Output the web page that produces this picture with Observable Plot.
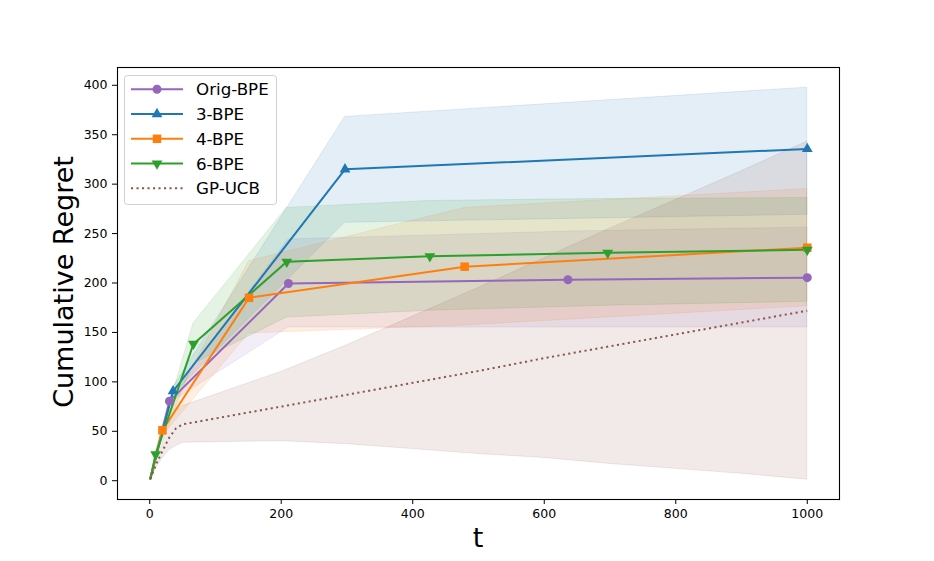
<!DOCTYPE html>
<html>
<head>
<meta charset="utf-8">
<script src="https://cdn.jsdelivr.net/npm/d3@7"></script>
<script src="https://cdn.jsdelivr.net/npm/@observablehq/plot@0.6"></script>
<style>
  html, body { margin: 0; padding: 0; background: white; }
  #chart { width: 934px; height: 561px; }
</style>
</head>
<body>
<div id="chart"></div>
<script>
// ---- Data ----
const seriesNames = ["Orig-BPE", "3-BPE", "4-BPE", "6-BPE", "GP-UCB"];
const seriesColors = ["#9467bd", "#1f77b4", "#ff7f0e", "#2ca02c", "#8c564b"];

const origT    = [1, 30, 211, 636, 1000];
const origMean = [2, 80.5, 199.5, 203.3, 205.4];
const origLo   = [2, 78, 155, 155, 155];
const origHi   = [2, 83, 244, 252, 256];

const threeT    = [1, 35.5, 297, 1000];
const threeMean = [2, 90.5, 315, 335.6];
const threeLo   = [2, 87, 261, 269];
const threeHi   = [2, 94, 368, 397.6];

const fourT    = [1, 19.3, 151, 479, 1000];
const fourMean = [2, 51, 185, 216.5, 235.7];
const fourLo   = [2, 45, 149, 157, 176.5];
const fourHi   = [2, 57, 222, 276, 295];

const sixT    = [1, 9, 66.5, 208.4, 426, 696.5, 1000];
const sixMean = [2, 26.6, 138.4, 221.5, 227, 230.6, 233.6];
const sixLo   = [2, 24, 118, 165, 172, 177, 181];
const sixHi   = [2, 29, 159, 276, 283, 285, 286];

const gpT    = [1, 10, 20, 30, 40, 50, 100, 200, 300, 400, 500, 600, 700, 800, 900, 1000];
const gpMean = [2, 17, 31, 44, 53, 57, 63, 75, 87, 99, 111, 124, 136, 148, 160, 172];
const gpStd  = [0, 4, 8, 13, 18, 18.5, 24, 35, 50, 67, 84, 101, 119, 136, 153, 171];

const xTicks = [0, 200, 400, 600, 800, 1000];
const yTicks = [0, 50, 100, 150, 200, 250, 300, 350, 400];

// ---- Build tables ----
function table(t, mean, lo, hi) {
  return t.map((v, i) => ({t: v, mean: mean[i], lo: lo[i], hi: hi[i]}));
}
const orig  = table(origT, origMean, origLo, origHi);
const three = table(threeT, threeMean, threeLo, threeHi);
const four  = table(fourT, fourMean, fourLo, fourHi);
const six   = table(sixT, sixMean, sixLo, sixHi);
const gp    = table(gpT, gpMean, gpMean.map((m, i) => m - gpStd[i]), gpMean.map((m, i) => m + gpStd[i]));

const bandSets = [orig, three, four, six, gp];
const fillAlpha = 0.12;

const marks = [];
bandSets.forEach((d, i) => {
  marks.push(Plot.areaY(d, {x: "t", y1: "lo", y2: "hi", fill: seriesColors[i], fillOpacity: fillAlpha,
    stroke: seriesColors[i], strokeOpacity: fillAlpha, strokeWidth: 1}));
});
[orig, three, four, six].forEach((d, i) => {
  marks.push(Plot.line(d, {x: "t", y: "mean", stroke: seriesColors[i], strokeWidth: 2}));
});
marks.push(Plot.line(gp, {x: "t", y: "mean", stroke: seriesColors[4], strokeWidth: 2,
  strokeDasharray: "2.1,3.4", strokeLinecap: "butt"}));

const markerSpec = [
  {symbol: "circle", r: 4.5, rotate: 0},
  {symbol: "triangle", r: 4.0, rotate: 0},
  {symbol: "square", r: 4.8, rotate: 0},
  {symbol: "triangle", r: 4.0, rotate: 180}
];
[orig, three, four, six].forEach((d, i) => {
  marks.push(Plot.dot(d.slice(1), {x: "t", y: "mean", symbol: markerSpec[i].symbol, r: markerSpec[i].r,
    rotate: markerSpec[i].rotate, fill: seriesColors[i], stroke: "none"}));
});
marks.push(Plot.frame({stroke: "black", strokeWidth: 1.1}));
marks.push(Plot.axisX({ticks: xTicks, tickSize: 5, tickPadding: 5, tickFormat: d => String(d), label: null}));
marks.push(Plot.axisY({ticks: yTicks, tickSize: 5, tickPadding: 5, tickFormat: d => String(d), label: null}));

const chart = Plot.plot({
  width: 934,
  height: 561,
  marginLeft: 117,
  marginRight: 95,
  marginTop: 67,
  marginBottom: 62,
  style: {fontFamily: "DejaVu Sans", fontSize: "12.5px", background: "white", color: "black", overflow: "visible"},
  x: {domain: [-49, 1049]},
  y: {domain: [-19, 418]},
  marks
});

document.getElementById("chart").appendChild(chart);

// ---- Axis titles and legend ----
const svg = d3.select(chart);
svg.append("text")
  .attr("x", 478).attr("y", 546.5)
  .attr("text-anchor", "middle")
  .attr("font-family", "DejaVu Sans").attr("font-size", 27)
  .attr("fill", "black")
  .text("t");
svg.append("text")
  .attr("transform", "translate(73,282) rotate(-90)")
  .attr("text-anchor", "middle")
  .attr("font-family", "DejaVu Sans").attr("font-size", 27)
  .attr("fill", "black")
  .text("Cumulative Regret");

const lg = svg.append("g");
lg.append("rect")
  .attr("x", 124.5).attr("y", 75.5).attr("width", 152).attr("height", 129).attr("rx", 3)
  .attr("fill", "white").attr("fill-opacity", 0.8)
  .attr("stroke", "#d0d0d0").attr("stroke-width", 1);
const legendSymbols = [d3.symbolCircle, d3.symbolTriangle, d3.symbolSquare, d3.symbolTriangle];
seriesNames.forEach((name, i) => {
  const yy = 89.3 + i * 24.75;
  const line = lg.append("line")
    .attr("x1", 131).attr("x2", 183).attr("y1", yy).attr("y2", yy)
    .attr("stroke", seriesColors[i]).attr("stroke-width", 2);
  if (i === 4) {
    line.attr("stroke-dasharray", "2.1,3.4");
  } else {
    const spec = markerSpec[i];
    const size = Math.PI * spec.r * spec.r;
    lg.append("path")
      .attr("d", d3.symbol(legendSymbols[i], size)())
      .attr("transform", `translate(157,${yy}) rotate(${spec.rotate})`)
      .attr("fill", seriesColors[i]);
  }
  lg.append("text")
    .attr("x", 196).attr("y", yy)
    .attr("dy", "0.36em")
    .attr("text-anchor", "start")
    .attr("font-family", "DejaVu Sans").attr("font-size", 16.7)
    .attr("fill", "black")
    .text(name);
});
</script>
</body>
</html>
